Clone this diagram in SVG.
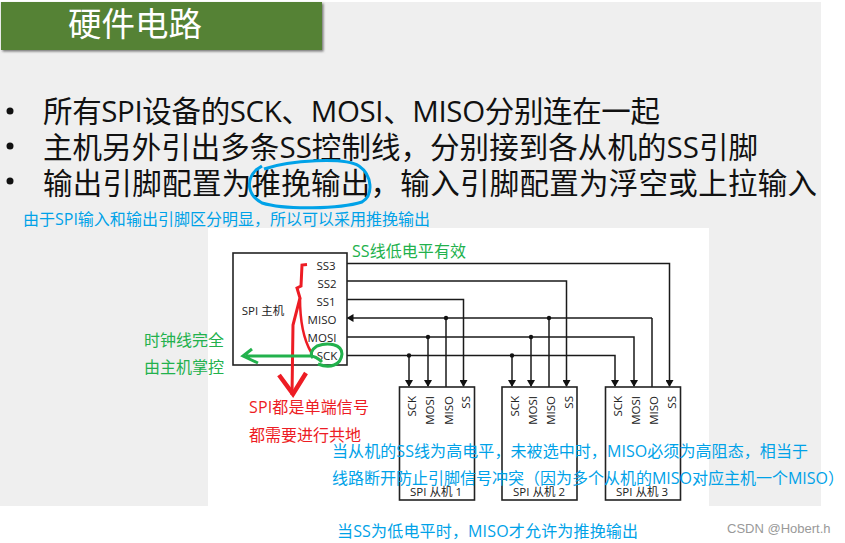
<svg xmlns="http://www.w3.org/2000/svg" width="845" height="543" viewBox="0 0 845 543">
<style>
text{font-family:"Open Sans","Noto Sans CJK SC",sans-serif}
.b{font-size:29.5px;fill:#111}
.bullet{fill:#111}
.lb{font-size:11.500px;fill:#222;text-anchor:middle}
.v{font-size:11.500px;fill:#222;text-anchor:end}
.bl{font-size:16px;fill:#00a2e8}
.g{font-size:16px;fill:#22b14c}
.r{font-size:16px;fill:#ed1c24}
.w{fill:none;stroke:#1a1a1a;stroke-width:1.5}
.box{fill:#fff;stroke:#222;stroke-width:1.6}
.dot{fill:#111}
</style>
<defs>
<marker id="a" markerWidth="7" markerHeight="8" refX="6" refY="4" orient="auto" markerUnits="userSpaceOnUse"><path d="M0 0L7 4L0 8z" fill="#111"/></marker>
<filter id="s" x="-2%" y="-5%" width="104%" height="115%"><feDropShadow dx="1.500" dy="1.500" stdDeviation="1" flood-color="#777"/></filter>
</defs>
<rect x="0" y="2" width="821" height="504" fill="#efefef"/>
<rect x="208" y="228" width="501" height="278" fill="#fff"/>
<g id="title"><rect x="1" y="2" width="321" height="48" fill="#548235" filter="url(#s)"/><text x="68" y="36" font-size="33.500" fill="#fff">硬件电路</text></g>
<g id="bullets">
<circle class="bullet" cx="10" cy="111" r="3.500"/><circle class="bullet" cx="10" cy="146" r="3.500"/><circle class="bullet" cx="10" cy="181" r="3.500"/>
<text class="b" x="43" y="122" textLength="617">所有SPI设备的SCK、MOSI、MISO分别连在一起</text>
<text class="b" x="43" y="158" textLength="715">主机另外引出多条SS控制线，分别接到各从机的SS引脚</text>
<text class="b" x="43" y="194" textLength="774">输出引脚配置为推挽输出，输入引脚配置为浮空或上拉输入</text>
</g>
<text id="note-top" class="bl" x="23" y="225" textLength="407">由于SPI输入和输出引脚区分明显，所以可以采用推挽输出</text>
<g id="connectors">
<path class="w" d="M347 263.500H669.500V386" marker-end="url(#a)"/>
<path class="w" d="M347 281H566.500V386" marker-end="url(#a)"/>
<path class="w" d="M347 299.500H463.500V386" marker-end="url(#a)"/>
<path class="w" d="M652 318H347.500" marker-end="url(#a)"/>
<path class="w" d="M446 318V387M549 318V387M652 318V387"/>
<path class="w" d="M347 337H634V386" marker-end="url(#a)"/>
<path class="w" d="M428 337V386" marker-end="url(#a)"/>
<path class="w" d="M531 337V386" marker-end="url(#a)"/>
<path class="w" d="M347 355.500H615V386" marker-end="url(#a)"/>
<path class="w" d="M409 355.500V386" marker-end="url(#a)"/>
<path class="w" d="M512 355.500V386" marker-end="url(#a)"/>
<circle class="dot" cx="446" cy="318" r="2.200"/><circle class="dot" cx="549" cy="318" r="2.200"/>
<circle class="dot" cx="428" cy="337" r="2.200"/><circle class="dot" cx="531" cy="337" r="2.200"/>
<circle class="dot" cx="409" cy="355.500" r="2.200"/><circle class="dot" cx="512" cy="355.500" r="2.200"/>
</g>
<g id="master"><rect class="box" x="233" y="253" width="114" height="112"/>
<text class="lb" x="263" y="315">SPI 主机</text>
<text class="lb" x="326" y="270">SS3</text><text class="lb" x="327" y="288">SS2</text><text class="lb" x="326" y="306">SS1</text><text class="lb" x="322" y="324">MISO</text><text class="lb" x="322" y="342">MOSI</text><text class="lb" x="327" y="360">SCK</text></g>
<g id="slave1"><rect class="box" x="399.500" y="387" width="75" height="113"/>
<text class="v" transform="translate(416 396) rotate(-90)">SCK</text><text class="v" transform="translate(434 396) rotate(-90)">MOSI</text><text class="v" transform="translate(452.500 396) rotate(-90)">MISO</text><text class="v" transform="translate(470 396) rotate(-90)">SS</text>
<text class="lb" x="436" y="496">SPI 从机 1</text></g>
<g id="slave2"><rect class="box" x="502" y="387" width="75" height="113"/>
<text class="v" transform="translate(518.500 396) rotate(-90)">SCK</text><text class="v" transform="translate(537 396) rotate(-90)">MOSI</text><text class="v" transform="translate(555 396) rotate(-90)">MISO</text><text class="v" transform="translate(572.500 396) rotate(-90)">SS</text>
<text class="lb" x="539" y="496">SPI 从机 2</text></g>
<g id="slave3"><rect class="box" x="605.500" y="387" width="75" height="113"/>
<text class="v" transform="translate(621.500 396) rotate(-90)">SCK</text><text class="v" transform="translate(640 396) rotate(-90)">MOSI</text><text class="v" transform="translate(658 396) rotate(-90)">MISO</text><text class="v" transform="translate(676 396) rotate(-90)">SS</text>
<text class="lb" x="642" y="496">SPI 从机 3</text></g>
<g id="annotations">
<path d="M264 169C290 160 345 157 359 166C372 175 374 195 362 202C340 209 285 210 262 203C247 195 246 180 256 170L262 166" fill="none" stroke="#00a2e8" stroke-width="3"/>
<path d="M307 264.500L302 265L301 286L297 288L300 298L293 325L292 395" fill="none" stroke="#ed1c24" stroke-width="3"/>
<path d="M300 298C300 320 304 340 311 352" fill="none" stroke="#ed1c24" stroke-width="2.500"/>
<path d="M279 375L293 394L306 373" fill="none" stroke="#ed1c24" stroke-width="4.500"/>
<path d="M322 362Q316 356 310 356H246M252 349L243 356L258 363" fill="none" stroke="#22b14c" stroke-width="3"/>
<path d="M318 364C330 369 341 365 342 354C342 344 328 342 317 346C311 350 310 354 313 358" fill="none" stroke="#22b14c" stroke-width="3"/>
<text class="g" x="352" y="257" textLength="114">SS线低电平有效</text>
<text class="g" x="144" y="346">时钟线完全</text><text class="g" x="144" y="373">由主机掌控</text>
<text class="r" x="249" y="413" textLength="120">SPI都是单端信号</text><text class="r" x="249" y="441">都需要进行共地</text>
<text class="bl" x="332" y="457" textLength="476">当从机的SS线为高电平，未被选中时，MISO必须为高阻态，相当于</text>
<text class="bl" x="332" y="484" textLength="512">线路断开防止引脚信号冲突（因为多个从机的MISO对应主机一个MISO）</text>
<text class="bl" x="337" y="537" textLength="301">当SS为低电平时，MISO才允许为推挽输出</text>
<text x="727" y="533" font-size="13" fill="#999" style="font-family:'Liberation Sans',sans-serif">CSDN @Hobert.h</text>
</g>
</svg>
